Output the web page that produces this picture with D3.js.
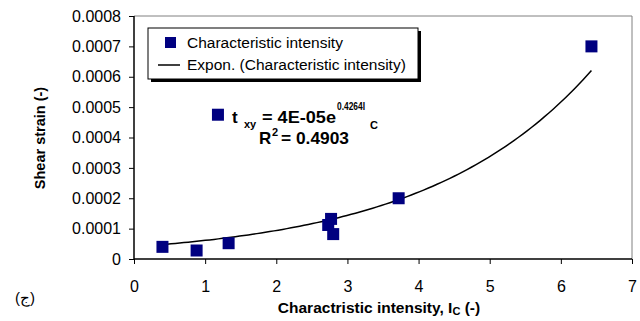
<!DOCTYPE html>
<html><head><meta charset="utf-8">
<script src="https://cdn.jsdelivr.net/npm/d3@7"></script>
<style>
body{margin:0;background:#fff;}
text{font-family:"Liberation Sans",Arial,sans-serif;}
</style></head>
<body><svg id="c" width="640" height="321"></svg>
<script>
// Data
const intensity = [0.40, 0.88, 1.18, 1.33, 2.73, 2.77, 2.80, 3.72, 6.43];
const shearStrain = [0.000040, 0.000028, 0.000475, 0.000052, 0.000112, 0.000132, 0.000082, 0.000200, 0.000700];
const xTicks = [0, 1, 2, 3, 4, 5, 6, 7];
const yTicks = [0, 0.0001, 0.0002, 0.0003, 0.0004, 0.0005, 0.0006, 0.0007, 0.0008];
const trendA = 4e-5, trendB = 0.4264; // from the chart's trendline label
const legendLabels = ["Characteristic intensity", "Expon. (Characteristic intensity)"];

const svg = d3.select("#c");
const L = 134, R = 632, T = 16, B = 259;
const x = d3.scaleLinear().domain([0, 7]).range([L, R]);
const y = d3.scaleLinear().domain([0, 0.0008]).range([B, T]);
const navy = "#000080";

// plot border (top/right grey)
svg.append("path").attr("d", `M${L},${T}H${R}V${B}`).attr("fill", "none").attr("stroke", "#808080").attr("stroke-width", 1);

// axes
const xAxis = svg.append("g").attr("transform", `translate(0,${B})`)
  .call(d3.axisBottom(x).tickValues(xTicks).tickSize(5).tickPadding(17).tickFormat(d3.format("d")));
const yAxis = svg.append("g").attr("transform", `translate(${L},0)`)
  .call(d3.axisLeft(y).tickValues(yTicks).tickSize(5).tickPadding(8).tickFormat(d => d === 0 ? "0" : d.toFixed(4)));
[xAxis, yAxis].forEach(g => {
  g.select(".domain").attr("stroke", "#000").attr("stroke-width", 1.5);
  g.selectAll(".tick line").attr("stroke", "#000");
  g.selectAll("text").attr("font-size", 16).attr("fill", "#000").style("font-family", "Liberation Sans, Arial, sans-serif");
});
yAxis.select(".domain").attr("d", `M0,${B}V${T}`);
xAxis.select(".domain").attr("d", `M${L},0H${R}`);

// trendline
const xs = d3.range(0, 101).map(i => d3.min(intensity) + (d3.max(intensity) - d3.min(intensity)) * i / 100);
svg.append("path").datum(xs)
  .attr("d", d3.line().x(d => x(d)).y(d => y(trendA * Math.exp(trendB * d))))
  .attr("fill", "none").attr("stroke", "#000").attr("stroke-width", 1.5);

// points
const S = 12;
svg.append("g").selectAll("rect").data(intensity.map((v, i) => [v, shearStrain[i]])).join("rect")
  .attr("x", d => x(d[0]) - S / 2).attr("y", d => y(d[1]) - S / 2)
  .attr("width", S).attr("height", S).attr("fill", navy);

// legend
const lg = svg.append("g");
lg.append("rect").attr("x", 151).attr("y", 31).attr("width", 270).attr("height", 51).attr("fill", "#000");
lg.append("rect").attr("x", 148).attr("y", 28).attr("width", 270).attr("height", 51).attr("fill", "#fff").attr("stroke", "#000").attr("stroke-width", 1);
lg.append("rect").attr("x", 165).attr("y", 37).attr("width", 11).attr("height", 11).attr("fill", navy);
lg.append("line").attr("x1", 158).attr("x2", 180).attr("y1", 65).attr("y2", 65).attr("stroke", "#000").attr("stroke-width", 1.5);
lg.selectAll("text.lab").data(legendLabels).join("text").attr("class", "lab")
  .attr("x", 187).attr("y", (d, i) => 48 + i * 22).attr("font-size", 15.5).text(d => d);

// equation label
const eq = svg.append("g").attr("font-weight", "bold");
eq.append("text").attr("x", 232).attr("y", 123).attr("font-size", 17).text("t");
eq.append("text").attr("x", 244).attr("y", 128).attr("font-size", 11).text("xy");
eq.append("text").attr("x", 262).attr("y", 123).attr("font-size", 17).attr("textLength", 74).attr("lengthAdjust", "spacingAndGlyphs").text("= 4E-05e");
eq.append("text").attr("x", 337).attr("y", 110).attr("font-size", 11).attr("textLength", 28).attr("lengthAdjust", "spacingAndGlyphs").text("0.4264I");
eq.append("text").attr("x", 370).attr("y", 129).attr("font-size", 11).text("C");
eq.append("text").attr("x", 259).attr("y", 144).attr("font-size", 17).text("R");
eq.append("text").attr("x", 272).attr("y", 136).attr("font-size", 11).text("2");
eq.append("text").attr("x", 281).attr("y", 144).attr("font-size", 17).attr("textLength", 68).attr("lengthAdjust", "spacingAndGlyphs").text("= 0.4903");

// axis titles
const xt = svg.append("text").attr("x", 379).attr("y", 313).attr("text-anchor", "middle").attr("font-weight", "bold").attr("font-size", 15.5);
xt.append("tspan").text("Charactristic intensity, I");
xt.append("tspan").attr("font-size", 11).attr("dy", 2).text("C");
xt.append("tspan").attr("dy", -2).text(" (-)");
svg.append("text").attr("transform", "translate(45,138) rotate(-90)").attr("text-anchor", "middle")
  .attr("font-weight", "bold").attr("font-size", 14.5).text("Shear strain (-)");

// panel label
svg.append("text").attr("x", 15).attr("y", 303).attr("font-size", 15).text("(ج)");
</script></body></html>
